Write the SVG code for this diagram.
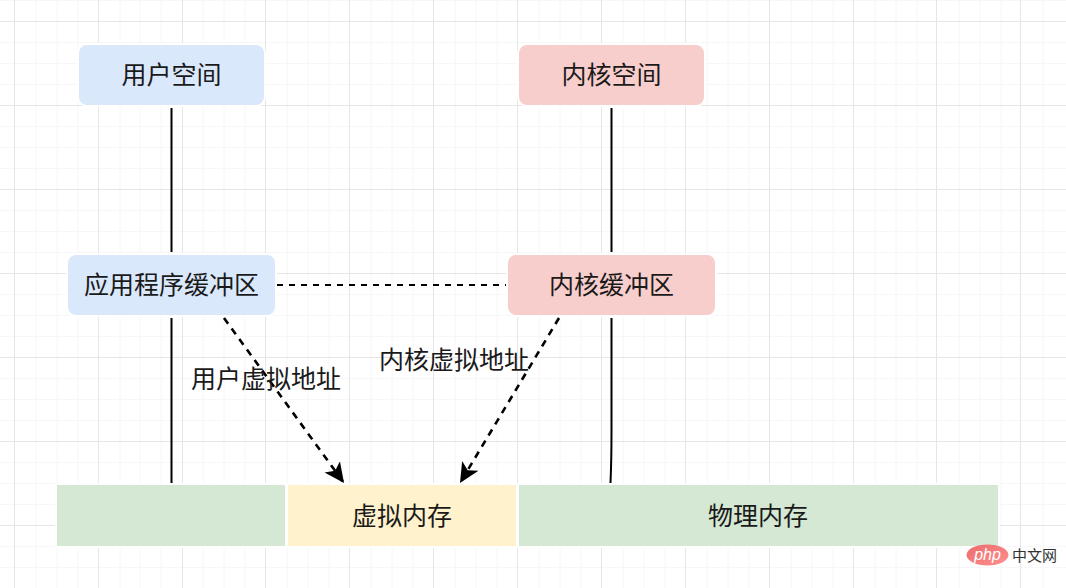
<svg xmlns="http://www.w3.org/2000/svg" width="1066" height="588" viewBox="0 0 1066 588">
<style>
text{font-family:"Liberation Sans","Noto Sans CJK SC",sans-serif;fill:#1a1a1a;font-size:25px;text-anchor:middle}
.minor{stroke:#f7f6f8;stroke-width:1;fill:none}
.major{stroke:#e6e5e8;stroke-width:1;fill:none}
.box{stroke:#fff;stroke-width:2}
.blue{fill:#dae8fc}.red{fill:#f8cecc}.green{fill:#d5e8d4}.yellow{fill:#fff2cc}
.line{stroke:#000;stroke-width:2;fill:none}
.dash{stroke:#000;stroke-width:2;fill:none;stroke-dasharray:6 6}
.diag{stroke:#000;stroke-width:2.600;fill:none;stroke-dasharray:7 6}
</style>
<defs>
<marker id="arrow" markerUnits="userSpaceOnUse" markerWidth="24" markerHeight="24" viewBox="0 0 24 24" refX="20" refY="12" orient="auto">
<path d="M0 2.500L20 12L0 21.500L5 12Z" fill="#000"/>
</marker>
<linearGradient id="logo" x1="0" y1="0" x2="1" y2="1"><stop offset="0" stop-color="#ec6c6c"/><stop offset="1" stop-color="#ff9090"/></linearGradient>
</defs>
<rect width="1066" height="588" fill="#fff"/>
<g id="grid">
<path class="minor" d="M36 0V588M57 0V588M78 0V588M120 0V588M140 0V588M161 0V588M203 0V588M224 0V588M245 0V588M287 0V588M308 0V588M329 0V588M371 0V588M392 0V588M413 0V588M455 0V588M476 0V588M497 0V588M539 0V588M560 0V588M581 0V588M623 0V588M644 0V588M665 0V588M707 0V588M728 0V588M749 0V588M791 0V588M812 0V588M833 0V588M875 0V588M896 0V588M917 0V588M959 0V588M980 0V588M1001 0V588M1043 0V588M0 0.500H1066M0 42.500H1066M0 63.500H1066M0 84.500H1066M0 126.500H1066M0 147.500H1066M0 168.500H1066M0 210.500H1066M0 231.500H1066M0 252.500H1066M0 294.500H1066M0 315.500H1066M0 336.500H1066M0 378.500H1066M0 399.500H1066M0 420.500H1066M0 462.500H1066M0 483.500H1066M0 504.500H1066M0 546.500H1066M0 567.500H1066"/>
<path class="major" d="M14.500 0V588M98.500 0V588M182.500 0V588M265.500 0V588M349.500 0V588M433.500 0V588M517.500 0V588M601.500 0V588M685.500 0V588M769.500 0V588M853.500 0V588M936.500 0V588M1020.500 0V588M0 21.500H1066M0 105.500H1066M0 189.500H1066M0 273.500H1066M0 357.500H1066M0 441.500H1066M0 525.500H1066"/>
</g>
<g id="connectors">
<path class="line" d="M171.500 108V252M171.500 318V483"/>
<path class="line" d="M611.500 108V252M611.500 318V430Q611.500 460 610.500 483"/>
<path class="dash" d="M277 285H507"/>
<path class="diag" d="M224 318L344 483" marker-end="url(#arrow)"/>
<path class="diag" d="M559 318L460 483" marker-end="url(#arrow)"/>
</g>
<g id="user-space"><rect class="box blue" x="78" y="44" width="187" height="62" rx="9"/><text x="171.500" y="84">用户空间</text></g>
<g id="kernel-space"><rect class="box red" x="518" y="44" width="187" height="62" rx="9"/><text x="611.500" y="84">内核空间</text></g>
<g id="app-buffer"><rect class="box blue" x="67" y="254" width="209" height="62" rx="9"/><text x="171.500" y="294">应用程序缓冲区</text></g>
<g id="kernel-buffer"><rect class="box red" x="507" y="254" width="209" height="62" rx="9"/><text x="611.500" y="294">内核缓冲区</text></g>
<g id="mem-left"><rect class="box green" x="56" y="484" width="230" height="63"/></g>
<g id="virtual-memory"><rect class="box yellow" x="287" y="484" width="230" height="63"/><text x="402" y="525">虚拟内存</text></g>
<g id="physical-memory"><rect class="box green" x="518" y="484" width="481" height="63"/><text x="758" y="525">物理内存</text></g>
<g id="labels">
<text x="266" y="388">用户虚拟地址</text>
<text x="454" y="369">内核虚拟地址</text>
</g>
<g id="watermark">
<ellipse cx="987.500" cy="555" rx="21" ry="10.500" fill="url(#logo)"/>
<text x="987.500" y="560" style="fill:#fff;font-size:16px;font-style:italic">php</text>
<text x="1034.500" y="561" style="fill:#333;font-size:15px">中文网</text>
</g>
</svg>
